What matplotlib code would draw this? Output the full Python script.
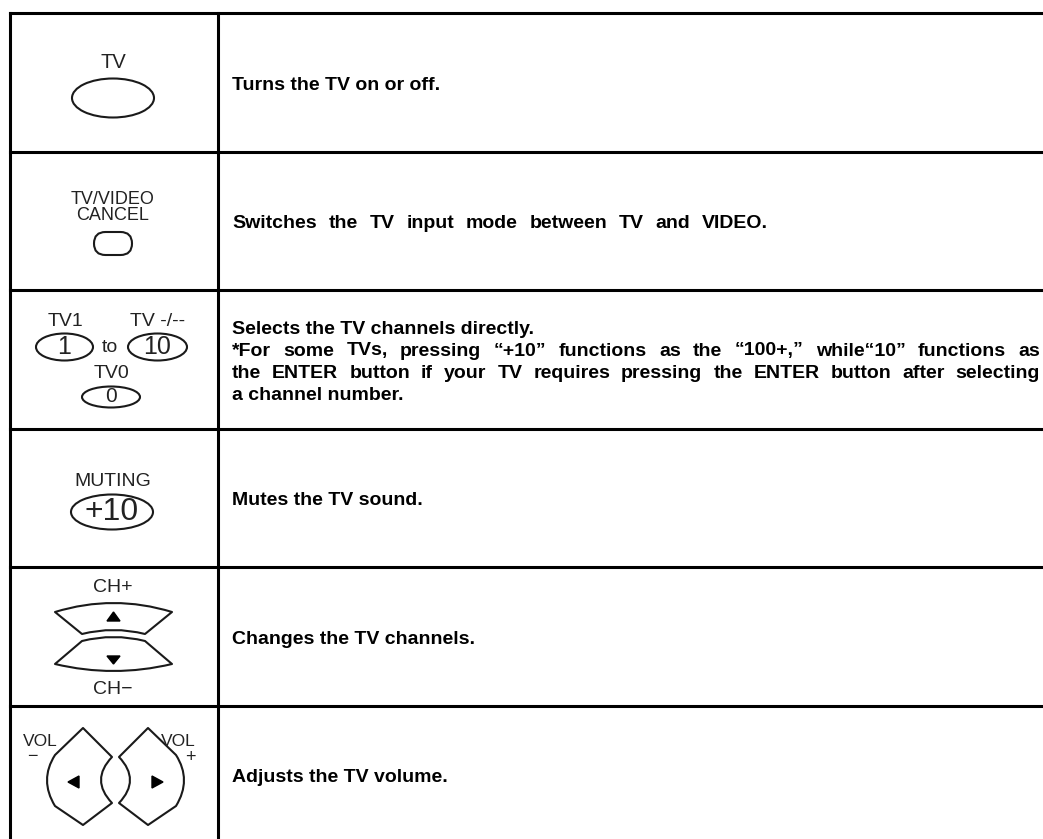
import matplotlib
matplotlib.use('Agg')
import matplotlib.pyplot as plt
from matplotlib.patches import Ellipse, FancyBboxPatch, PathPatch, Polygon
from matplotlib.path import Path

# --- content ---
descriptions = [
    ["Turns the TV on or off."],
    ["Switches the TV input mode between TV and VIDEO."],
    ["Selects the TV channels directly.",
     "*For some TVs, pressing \u201c+10\u201d functions as the \u201c100+,\u201d while\u201c10\u201d functions as",
     "the ENTER button if your TV requires pressing the ENTER button after selecting",
     "a channel number."],
    ["Mutes the TV sound."],
    ["Changes the TV channels."],
    ["Adjusts the TV volume."],
]
# lines whose words are spread out to a given right edge
justified = {(1, 0): 768, (2, 1): 1040, (2, 2): 1040}
tv_label = "TV"
tvvideo_labels = ["TV/VIDEO", "CANCEL"]
digit_labels = ["TV1", "TV -/--", "TV0"]
digit_keys = ["1", "10", "0"]
muting_label, muting_key = "MUTING", "+10"
ch_labels = ["CH+", "CH\u2212"]
vol_labels = [("VOL", "\u2212"), ("VOL", "+")]

# --- layout (pixels) ---
W, H = 1043, 839
row_edges = [13, 152, 290, 429, 567, 706, 845]
left_x, col_x = 10, 218
text_x = 232
icon_cx = 113
lab_font = 'Liberation Sans'
desc_font = 'Liberation Sans'
desc_size = 14.0
spacing = 22
base_off = 0.36 * desc_size * 100 / 72   # centre line -> baseline

fig = plt.figure(figsize=(W / 100, H / 100), dpi=100)
fig.patch.set_facecolor('white')
ax = fig.add_axes([0, 0, 1, 1])
ax.set_xlim(0, W)
ax.set_ylim(H, 0)
ax.axis('off')

# table grid
lw_grid = 2.2
ax.plot([left_x, left_x], [row_edges[0], H + 5], color='black', lw=lw_grid, solid_capstyle='projecting')
ax.plot([col_x, col_x], [row_edges[0], H + 5], color='black', lw=lw_grid)
for y in row_edges[:-1]:
    ax.plot([left_x, W + 5], [y, y], color='black', lw=lw_grid, solid_capstyle='projecting')

# description text
renderer = fig.canvas.get_renderer()

def text_w(s, size):
    t = ax.text(0, 0, s, fontsize=size, family=desc_font, weight='bold')
    w = t.get_window_extent(renderer).width
    t.remove()
    return w

for i, lines in enumerate(descriptions):
    cy = (row_edges[i] + row_edges[i + 1]) / 2
    n = len(lines)
    for k, line in enumerate(lines):
        y = cy + (k - (n - 1) / 2) * spacing + base_off
        kw = dict(fontsize=desc_size, family=desc_font, weight='bold', va='baseline', ha='left', color='black')
        if (i, k) in justified:
            words = line.split(' ')
            widths = [text_w(wd, desc_size) for wd in words]
            gap = (justified[(i, k)] - text_x - sum(widths)) / (len(words) - 1)
            x = text_x
            for wd, wdw in zip(words, widths):
                ax.text(x, y, wd, **kw)
                x += wdw + gap
        else:
            ax.text(text_x, y, line, **kw)

lc = '#1a1a1a'
blw = 1.5

def label(x, y, s, size=14):
    ax.text(x, y, s, fontsize=size, family=lab_font, ha='center', va='center', color='#222222')

def oval(x, y, w, h):
    ax.add_patch(Ellipse((x, y), w, h, fill=False, ec=lc, lw=blw))

# row 1: TV
label(icon_cx, 63, tv_label, 14.5)
oval(icon_cx, 98, 82, 39)

# row 2: TV/VIDEO CANCEL
label(icon_cx, 200, tvvideo_labels[0], 13)
label(icon_cx, 215, tvvideo_labels[1], 13)
ax.add_patch(FancyBboxPatch((83 + 11, 232), 60 - 22, 23, boxstyle='round,pad=0,rounding_size=11.5',
                            fill=False, ec=lc, lw=blw))

# row 3: digit keys
label(66, 322, digit_labels[0], 14)
label(158, 322, digit_labels[1], 14)
oval(64.5, 347, 57, 27)
label(64.5, 347, digit_keys[0], 18)
label(110, 348, "to", 14)
oval(157.5, 347, 59, 27)
label(157.5, 347, digit_keys[1], 18)
label(111, 374, digit_labels[2], 14)
oval(111, 397, 58, 21)
label(111, 397, digit_keys[2], 15)

# row 4: MUTING +10
label(icon_cx, 481, muting_label, 14)
oval(112, 512, 82, 35)
label(112, 512, muting_key, 23)

# row 5: CH +/-
up = Path([(55, 612), (113.5, 594), (172, 612), (145, 634), (113.5, 626), (82, 634), (55, 612)],
          [Path.MOVETO, Path.CURVE3, Path.CURVE3, Path.LINETO, Path.CURVE3, Path.CURVE3, Path.CLOSEPOLY])
dn = Path([(82, 641), (113.5, 633), (145, 641), (172, 664), (113.5, 678), (55, 664), (82, 641)],
          [Path.MOVETO, Path.CURVE3, Path.CURVE3, Path.LINETO, Path.CURVE3, Path.CURVE3, Path.CLOSEPOLY])
for p in (up, dn):
    ax.add_patch(PathPatch(p, fill=False, ec=lc, lw=blw, joinstyle='round'))
ax.add_patch(Polygon([(107, 621), (120, 621), (113.5, 612)], color='black'))
ax.add_patch(Polygon([(107, 656), (120, 656), (113.5, 664)], color='black'))
label(icon_cx, 587, ch_labels[0], 14)
label(icon_cx, 690, ch_labels[1], 14)

# row 6: VOL -/+
def vol_path(m):
    f = (lambda x: x) if m == 0 else (lambda x: 231 - x)
    pts = [(83, 728), (55, 755), (39, 780), (55, 806), (83, 825),
           (112, 803), (90, 780), (112, 757), (83, 728)]
    codes = [Path.MOVETO, Path.LINETO, Path.CURVE3, Path.CURVE3, Path.LINETO,
             Path.LINETO, Path.CURVE3, Path.CURVE3, Path.CLOSEPOLY]
    return Path([(f(x), y) for x, y in pts], codes)

for m in (0, 1):
    ax.add_patch(PathPatch(vol_path(m), fill=False, ec=lc, lw=blw, joinstyle='round'))
ax.add_patch(Polygon([(68, 782), (79, 776), (79, 788)], color='black'))
ax.add_patch(Polygon([(163, 782), (152, 776), (152, 788)], color='black'))
label(40, 742, vol_labels[0][0], 12.5)
label(32, 756, vol_labels[0][1], 13)
label(178, 742, vol_labels[1][0], 12.5)
label(190, 757, vol_labels[1][1], 13)

fig.savefig('out.png', dpi=100, facecolor='white')
